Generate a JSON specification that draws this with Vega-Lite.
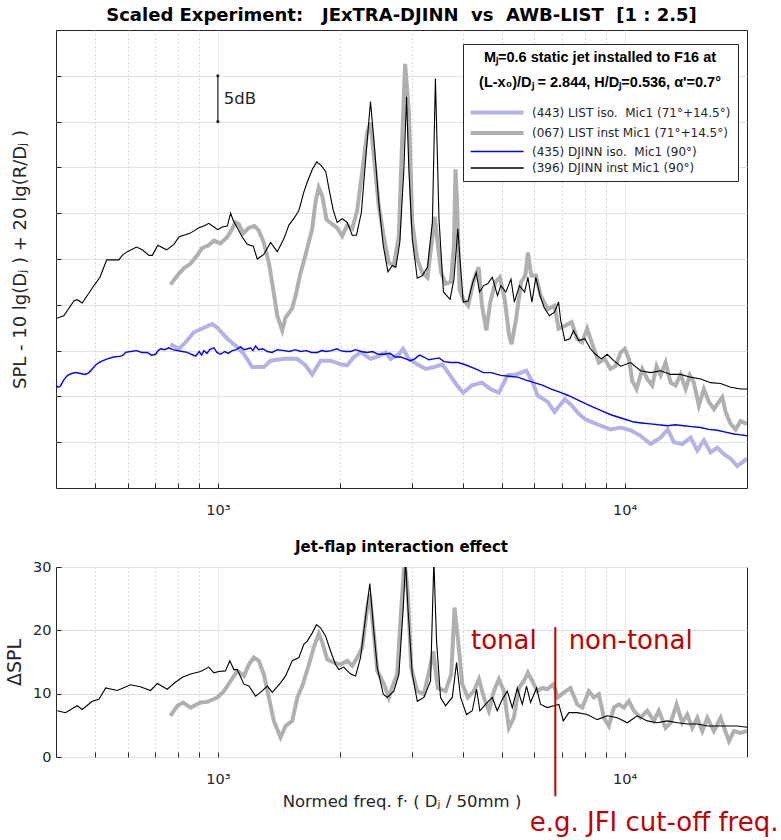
{
  "$schema": "https://vega.github.io/schema/vega-lite/v6.json",
  "padding": {"left": 5, "top": 6, "right": 0, "bottom": 0},
  "background": "white",
  "config": {
    "font": "DejaVu Sans",
    "view": {"stroke": "#262626", "strokeWidth": 1},
    "axis": {
      "domain": false, "ticks": true, "tickSize": -5, "tickColor": "#262626", "tickWidth": 1,
      "labelColor": "#262626", "titleColor": "#262626",
      "labelFont": "DejaVu Sans", "titleFont": "DejaVu Sans",
      "labelFontSize": 14.5, "titleFontWeight": "normal",
      "gridColor": "#e2e2e2", "gridWidth": 1, "labelOverlap": false
    },
    "title": {"font": "DejaVu Sans", "color": "#000000", "anchor": "middle"}
  },
  "datasets": {
    "top": [
      {"s":"a","f":765,"v":15.7},{"s":"a","f":802,"v":15.2},{"s":"a","f":833,"v":15.9},{"s":"a","f":873,"v":17.0},{"s":"a","f":924,"v":17.5},{"s":"a","f":969,"v":17.9},{"s":"a","f":997,"v":17.5},{"s":"a","f":1055,"v":16.3},{"s":"a","f":1116,"v":15.4},{"s":"a","f":1159,"v":14.6},{"s":"a","f":1215,"v":13.2},{"s":"a","f":1297,"v":13.2},{"s":"a","f":1348,"v":13.9},{"s":"a","f":1453,"v":14.1},{"s":"a","f":1566,"v":14.1},{"s":"a","f":1642,"v":13.4},{"s":"a","f":1706,"v":12.4},{"s":"a","f":1790,"v":13.9},{"s":"a","f":1892,"v":13.9},{"s":"a","f":2003,"v":13.5},{"s":"a","f":2080,"v":13.4},{"s":"a","f":2160,"v":14.3},{"s":"a","f":2245,"v":14.8},{"s":"a","f":2373,"v":14.1},{"s":"a","f":2487,"v":14.4},{"s":"a","f":2584,"v":14.8},{"s":"a","f":2660,"v":14.1},{"s":"a","f":2786,"v":14.6},{"s":"a","f":2853,"v":15.2},{"s":"a","f":2949,"v":14.1},{"s":"a","f":3092,"v":13.5},{"s":"a","f":3244,"v":13.0},{"s":"a","f":3398,"v":13.2},{"s":"a","f":3567,"v":13.5},{"s":"a","f":3723,"v":12.3},{"s":"a","f":3873,"v":11.2},{"s":"a","f":4012,"v":10.4},{"s":"a","f":4212,"v":11.2},{"s":"a","f":4461,"v":11.5},{"s":"a","f":4676,"v":10.8},{"s":"a","f":4907,"v":10.4},{"s":"a","f":5155,"v":12.3},{"s":"a","f":5408,"v":12.4},{"s":"a","f":5733,"v":12.8},{"s":"a","f":5949,"v":11.5},{"s":"a","f":6108,"v":10.1},{"s":"a","f":6473,"v":9.4},{"s":"a","f":6726,"v":8.3},{"s":"a","f":7130,"v":9.7},{"s":"a","f":7414,"v":9.0},{"s":"a","f":7715,"v":8.1},{"s":"a","f":8012,"v":7.5},{"s":"a","f":8322,"v":7.2},{"s":"a","f":8730,"v":6.8},{"s":"a","f":9239,"v":6.4},{"s":"a","f":9777,"v":6.6},{"s":"a","f":10347,"v":6.3},{"s":"a","f":10949,"v":5.7},{"s":"a","f":11588,"v":4.8},{"s":"a","f":12263,"v":5.5},{"s":"a","f":12765,"v":6.4},{"s":"a","f":13219,"v":5.0},{"s":"a","f":13864,"v":4.8},{"s":"a","f":14534,"v":5.5},{"s":"a","f":15096,"v":4.1},{"s":"a","f":15668,"v":5.2},{"s":"a","f":16276,"v":3.9},{"s":"a","f":16904,"v":4.4},{"s":"a","f":17550,"v":3.7},{"s":"a","f":18228,"v":3.2},{"s":"a","f":18930,"v":2.4},{"s":"a","f":20000,"v":3.2},
      {"s":"b","f":765,"v":22.2},{"s":"b","f":795,"v":23.2},{"s":"b","f":825,"v":24.0},{"s":"b","f":857,"v":24.5},{"s":"b","f":890,"v":25.4},{"s":"b","f":915,"v":26.2},{"s":"b","f":950,"v":26.5},{"s":"b","f":978,"v":27.0},{"s":"b","f":1015,"v":26.7},{"s":"b","f":1055,"v":27.4},{"s":"b","f":1085,"v":28.3},{"s":"b","f":1105,"v":29.0},{"s":"b","f":1126,"v":28.8},{"s":"b","f":1155,"v":27.8},{"s":"b","f":1192,"v":28.4},{"s":"b","f":1231,"v":28.6},{"s":"b","f":1261,"v":28.1},{"s":"b","f":1297,"v":26.8},{"s":"b","f":1335,"v":24.6},{"s":"b","f":1368,"v":21.7},{"s":"b","f":1400,"v":18.8},{"s":"b","f":1440,"v":17.2},{"s":"b","f":1467,"v":18.6},{"s":"b","f":1523,"v":19.6},{"s":"b","f":1561,"v":21.4},{"s":"b","f":1591,"v":23.2},{"s":"b","f":1642,"v":25.4},{"s":"b","f":1706,"v":28.3},{"s":"b","f":1738,"v":31.2},{"s":"b","f":1770,"v":32.8},{"s":"b","f":1806,"v":31.9},{"s":"b","f":1850,"v":29.3},{"s":"b","f":1910,"v":28.8},{"s":"b","f":1965,"v":28.4},{"s":"b","f":2022,"v":27.5},{"s":"b","f":2080,"v":28.7},{"s":"b","f":2140,"v":28.3},{"s":"b","f":2201,"v":30.3},{"s":"b","f":2264,"v":34.5},{"s":"b","f":2329,"v":38.8},{"s":"b","f":2373,"v":39.9},{"s":"b","f":2418,"v":36.3},{"s":"b","f":2487,"v":30.8},{"s":"b","f":2559,"v":27.4},{"s":"b","f":2632,"v":24.6},{"s":"b","f":2708,"v":24.3},{"s":"b","f":2786,"v":27.5},{"s":"b","f":2840,"v":38.1},{"s":"b","f":2887,"v":46.3},{"s":"b","f":2949,"v":41.0},{"s":"b","f":3006,"v":29.0},{"s":"b","f":3092,"v":25.0},{"s":"b","f":3183,"v":23.5},{"s":"b","f":3276,"v":23.0},{"s":"b","f":3356,"v":26.8},{"s":"b","f":3416,"v":29.6},{"s":"b","f":3469,"v":26.8},{"s":"b","f":3540,"v":23.5},{"s":"b","f":3632,"v":22.3},{"s":"b","f":3742,"v":22.5},{"s":"b","f":3806,"v":26.5},{"s":"b","f":3840,"v":34.8},{"s":"b","f":3873,"v":31.2},{"s":"b","f":3929,"v":21.7},{"s":"b","f":4012,"v":20.6},{"s":"b","f":4125,"v":19.9},{"s":"b","f":4250,"v":22.5},{"s":"b","f":4377,"v":24.1},{"s":"b","f":4461,"v":19.9},{"s":"b","f":4572,"v":17.2},{"s":"b","f":4676,"v":20.3},{"s":"b","f":4814,"v":22.5},{"s":"b","f":4935,"v":23.0},{"s":"b","f":5074,"v":20.6},{"s":"b","f":5204,"v":16.6},{"s":"b","f":5275,"v":15.7},{"s":"b","f":5408,"v":18.4},{"s":"b","f":5570,"v":22.5},{"s":"b","f":5701,"v":23.2},{"s":"b","f":5786,"v":25.7},{"s":"b","f":5895,"v":23.2},{"s":"b","f":6052,"v":23.2},{"s":"b","f":6221,"v":21.0},{"s":"b","f":6473,"v":19.5},{"s":"b","f":6726,"v":19.9},{"s":"b","f":6883,"v":17.4},{"s":"b","f":7130,"v":17.7},{"s":"b","f":7414,"v":18.1},{"s":"b","f":7639,"v":16.3},{"s":"b","f":7864,"v":15.9},{"s":"b","f":8090,"v":17.4},{"s":"b","f":8300,"v":15.9},{"s":"b","f":8645,"v":13.7},{"s":"b","f":8939,"v":14.1},{"s":"b","f":9230,"v":13.0},{"s":"b","f":9500,"v":13.3},{"s":"b","f":9779,"v":14.8},{"s":"b","f":10015,"v":15.2},{"s":"b","f":10246,"v":14.1},{"s":"b","f":10445,"v":11.7},{"s":"b","f":10703,"v":10.8},{"s":"b","f":11053,"v":13.0},{"s":"b","f":11370,"v":11.9},{"s":"b","f":11697,"v":11.2},{"s":"b","f":11986,"v":13.3},{"s":"b","f":12263,"v":12.3},{"s":"b","f":12614,"v":13.7},{"s":"b","f":12977,"v":11.5},{"s":"b","f":13350,"v":11.2},{"s":"b","f":13734,"v":12.4},{"s":"b","f":14129,"v":10.8},{"s":"b","f":14474,"v":12.3},{"s":"b","f":14804,"v":11.5},{"s":"b","f":15229,"v":9.0},{"s":"b","f":15668,"v":10.8},{"s":"b","f":16120,"v":9.4},{"s":"b","f":16583,"v":8.6},{"s":"b","f":17059,"v":9.4},{"s":"b","f":17390,"v":9.9},{"s":"b","f":17720,"v":8.3},{"s":"b","f":18228,"v":7.0},{"s":"b","f":18750,"v":6.4},{"s":"b","f":19289,"v":7.3},{"s":"b","f":20000,"v":7.0},
      {"s":"c","f":400,"v":11.2},{"s":"c","f":405,"v":11.0},{"s":"c","f":410,"v":11.1},{"s":"c","f":418,"v":11.8},{"s":"c","f":427,"v":12.3},{"s":"c","f":437,"v":12.5},{"s":"c","f":447,"v":12.6},{"s":"c","f":460,"v":12.5},{"s":"c","f":472,"v":12.4},{"s":"c","f":482,"v":12.6},{"s":"c","f":491,"v":13.0},{"s":"c","f":500,"v":13.4},{"s":"c","f":510,"v":13.7},{"s":"c","f":522,"v":13.9},{"s":"c","f":535,"v":14.1},{"s":"c","f":555,"v":14.3},{"s":"c","f":577,"v":14.4},{"s":"c","f":585,"v":14.5},{"s":"c","f":593,"v":14.8},{"s":"c","f":610,"v":14.9},{"s":"c","f":631,"v":15.0},{"s":"c","f":650,"v":14.8},{"s":"c","f":671,"v":14.8},{"s":"c","f":687,"v":14.5},{"s":"c","f":703,"v":14.6},{"s":"c","f":713,"v":15.0},{"s":"c","f":723,"v":15.2},{"s":"c","f":740,"v":15.1},{"s":"c","f":758,"v":15.3},{"s":"c","f":775,"v":15.1},{"s":"c","f":795,"v":15.0},{"s":"c","f":818,"v":14.9},{"s":"c","f":841,"v":14.8},{"s":"c","f":860,"v":14.6},{"s":"c","f":882,"v":14.4},{"s":"c","f":900,"v":14.9},{"s":"c","f":912,"v":14.5},{"s":"c","f":924,"v":15.0},{"s":"c","f":940,"v":14.7},{"s":"c","f":955,"v":15.1},{"s":"c","f":978,"v":15.3},{"s":"c","f":995,"v":14.8},{"s":"c","f":1015,"v":14.6},{"s":"c","f":1040,"v":14.9},{"s":"c","f":1060,"v":14.7},{"s":"c","f":1085,"v":15.0},{"s":"c","f":1110,"v":15.1},{"s":"c","f":1137,"v":15.4},{"s":"c","f":1160,"v":15.1},{"s":"c","f":1185,"v":15.2},{"s":"c","f":1204,"v":15.3},{"s":"c","f":1220,"v":15.0},{"s":"c","f":1238,"v":15.5},{"s":"c","f":1260,"v":15.1},{"s":"c","f":1290,"v":15.2},{"s":"c","f":1323,"v":14.9},{"s":"c","f":1360,"v":14.8},{"s":"c","f":1400,"v":15.1},{"s":"c","f":1453,"v":15.0},{"s":"c","f":1500,"v":14.9},{"s":"c","f":1550,"v":15.1},{"s":"c","f":1597,"v":14.9},{"s":"c","f":1650,"v":15.0},{"s":"c","f":1700,"v":14.8},{"s":"c","f":1756,"v":14.8},{"s":"c","f":1800,"v":15.0},{"s":"c","f":1850,"v":14.9},{"s":"c","f":1900,"v":15.0},{"s":"c","f":1965,"v":15.2},{"s":"c","f":2000,"v":15.0},{"s":"c","f":2060,"v":14.9},{"s":"c","f":2121,"v":14.9},{"s":"c","f":2180,"v":15.1},{"s":"c","f":2250,"v":14.9},{"s":"c","f":2329,"v":14.8},{"s":"c","f":2400,"v":14.9},{"s":"c","f":2480,"v":14.6},{"s":"c","f":2559,"v":14.6},{"s":"c","f":2650,"v":14.7},{"s":"c","f":2730,"v":14.3},{"s":"c","f":2813,"v":14.3},{"s":"c","f":2900,"v":14.1},{"s":"c","f":2974,"v":13.9},{"s":"c","f":3050,"v":14.1},{"s":"c","f":3130,"v":14.5},{"s":"c","f":3209,"v":14.3},{"s":"c","f":3300,"v":14.0},{"s":"c","f":3398,"v":14.1},{"s":"c","f":3500,"v":14.2},{"s":"c","f":3600,"v":13.8},{"s":"c","f":3742,"v":13.7},{"s":"c","f":3900,"v":13.7},{"s":"c","f":4089,"v":13.4},{"s":"c","f":4300,"v":13.0},{"s":"c","f":4502,"v":12.6},{"s":"c","f":4700,"v":12.6},{"s":"c","f":4963,"v":12.3},{"s":"c","f":5200,"v":12.2},{"s":"c","f":5463,"v":12.1},{"s":"c","f":5700,"v":11.8},{"s":"c","f":5998,"v":11.5},{"s":"c","f":6300,"v":11.2},{"s":"c","f":6604,"v":10.8},{"s":"c","f":6900,"v":10.5},{"s":"c","f":7268,"v":10.1},{"s":"c","f":7600,"v":9.7},{"s":"c","f":8012,"v":9.2},{"s":"c","f":8400,"v":8.8},{"s":"c","f":8819,"v":8.4},{"s":"c","f":9250,"v":8.0},{"s":"c","f":9707,"v":7.7},{"s":"c","f":10200,"v":7.4},{"s":"c","f":10541,"v":7.2},{"s":"c","f":11000,"v":7.1},{"s":"c","f":11588,"v":7.0},{"s":"c","f":12100,"v":6.9},{"s":"c","f":12765,"v":6.8},{"s":"c","f":13300,"v":6.9},{"s":"c","f":13989,"v":6.8},{"s":"c","f":14600,"v":6.7},{"s":"c","f":15380,"v":6.6},{"s":"c","f":16100,"v":6.4},{"s":"c","f":16904,"v":6.3},{"s":"c","f":17700,"v":6.1},{"s":"c","f":18570,"v":5.9},{"s":"c","f":19300,"v":5.8},{"s":"c","f":20000,"v":5.7},
      {"s":"d","f":400,"v":18.5},{"s":"d","f":418,"v":18.8},{"s":"d","f":443,"v":20.45},{"s":"d","f":451,"v":20.56},{"s":"d","f":464,"v":20.2},{"s":"d","f":496,"v":22.1},{"s":"d","f":513,"v":23.0},{"s":"d","f":533,"v":24.9},{"s":"d","f":571,"v":24.9},{"s":"d","f":582,"v":25.4},{"s":"d","f":599,"v":25.8},{"s":"d","f":631,"v":26.3},{"s":"d","f":652,"v":26.0},{"s":"d","f":677,"v":25.4},{"s":"d","f":690,"v":25.4},{"s":"d","f":712,"v":26.5},{"s":"d","f":748,"v":26.0},{"s":"d","f":780,"v":26.6},{"s":"d","f":802,"v":27.4},{"s":"d","f":825,"v":27.6},{"s":"d","f":853,"v":27.8},{"s":"d","f":876,"v":28.1},{"s":"d","f":898,"v":28.4},{"s":"d","f":924,"v":28.6},{"s":"d","f":950,"v":28.9},{"s":"d","f":978,"v":28.5},{"s":"d","f":1000,"v":28.2},{"s":"d","f":1025,"v":28.5},{"s":"d","f":1055,"v":28.6},{"s":"d","f":1075,"v":30.0},{"s":"d","f":1091,"v":29.2},{"s":"d","f":1116,"v":28.4},{"s":"d","f":1148,"v":27.4},{"s":"d","f":1181,"v":26.6},{"s":"d","f":1222,"v":26.4},{"s":"d","f":1250,"v":25.0},{"s":"d","f":1297,"v":25.5},{"s":"d","f":1348,"v":26.8},{"s":"d","f":1400,"v":25.8},{"s":"d","f":1453,"v":27.2},{"s":"d","f":1495,"v":28.7},{"s":"d","f":1537,"v":29.4},{"s":"d","f":1582,"v":30.3},{"s":"d","f":1627,"v":32.3},{"s":"d","f":1659,"v":33.4},{"s":"d","f":1708,"v":34.8},{"s":"d","f":1750,"v":35.6},{"s":"d","f":1797,"v":35.2},{"s":"d","f":1843,"v":34.5},{"s":"d","f":1877,"v":32.6},{"s":"d","f":1922,"v":30.3},{"s":"d","f":1965,"v":29.0},{"s":"d","f":2022,"v":29.4},{"s":"d","f":2080,"v":29.0},{"s":"d","f":2140,"v":27.6},{"s":"d","f":2192,"v":27.6},{"s":"d","f":2254,"v":30.1},{"s":"d","f":2320,"v":37.0},{"s":"d","f":2373,"v":42.2},{"s":"d","f":2418,"v":38.1},{"s":"d","f":2487,"v":31.2},{"s":"d","f":2550,"v":26.5},{"s":"d","f":2619,"v":23.6},{"s":"d","f":2686,"v":24.3},{"s":"d","f":2739,"v":24.1},{"s":"d","f":2801,"v":26.8},{"s":"d","f":2867,"v":34.8},{"s":"d","f":2910,"v":42.7},{"s":"d","f":2949,"v":34.8},{"s":"d","f":3006,"v":27.2},{"s":"d","f":3092,"v":22.9},{"s":"d","f":3183,"v":23.2},{"s":"d","f":3276,"v":24.1},{"s":"d","f":3369,"v":29.0},{"s":"d","f":3427,"v":44.7},{"s":"d","f":3497,"v":29.4},{"s":"d","f":3586,"v":21.4},{"s":"d","f":3723,"v":20.6},{"s":"d","f":3806,"v":22.8},{"s":"d","f":3891,"v":28.3},{"s":"d","f":3945,"v":24.6},{"s":"d","f":4012,"v":20.3},{"s":"d","f":4125,"v":20.4},{"s":"d","f":4237,"v":22.5},{"s":"d","f":4317,"v":23.5},{"s":"d","f":4400,"v":21.4},{"s":"d","f":4502,"v":22.1},{"s":"d","f":4606,"v":22.3},{"s":"d","f":4729,"v":23.0},{"s":"d","f":4871,"v":21.0},{"s":"d","f":4963,"v":22.1},{"s":"d","f":5106,"v":21.4},{"s":"d","f":5257,"v":22.8},{"s":"d","f":5358,"v":20.3},{"s":"d","f":5516,"v":22.1},{"s":"d","f":5679,"v":21.4},{"s":"d","f":5786,"v":23.0},{"s":"d","f":5918,"v":20.3},{"s":"d","f":6052,"v":23.0},{"s":"d","f":6198,"v":21.0},{"s":"d","f":6342,"v":19.7},{"s":"d","f":6533,"v":18.8},{"s":"d","f":6726,"v":19.2},{"s":"d","f":6883,"v":20.3},{"s":"d","f":6965,"v":18.3},{"s":"d","f":7130,"v":16.1},{"s":"d","f":7342,"v":16.3},{"s":"d","f":7488,"v":17.2},{"s":"d","f":7715,"v":16.1},{"s":"d","f":7985,"v":16.3},{"s":"d","f":8242,"v":15.2},{"s":"d","f":8480,"v":14.6},{"s":"d","f":8771,"v":14.1},{"s":"d","f":9060,"v":14.6},{"s":"d","f":9409,"v":13.9},{"s":"d","f":9777,"v":13.3},{"s":"d","f":10347,"v":13.7},{"s":"d","f":10949,"v":12.8},{"s":"d","f":11588,"v":12.6},{"s":"d","f":12263,"v":12.8},{"s":"d","f":12977,"v":12.4},{"s":"d","f":13734,"v":12.4},{"s":"d","f":14534,"v":12.1},{"s":"d","f":15380,"v":11.9},{"s":"d","f":16276,"v":11.5},{"s":"d","f":17224,"v":11.4},{"s":"d","f":18228,"v":11.0},{"s":"d","f":19289,"v":10.8},{"s":"d","f":20000,"v":10.8}
    ],
    "bot": [
      {"s":"b","f":765,"v":6.5},{"s":"b","f":795,"v":8.1},{"s":"b","f":822,"v":8.6},{"s":"b","f":857,"v":7.8},{"s":"b","f":907,"v":8.6},{"s":"b","f":942,"v":8.7},{"s":"b","f":997,"v":9.4},{"s":"b","f":1035,"v":10.4},{"s":"b","f":1075,"v":12.0},{"s":"b","f":1116,"v":13.6},{"s":"b","f":1159,"v":12.8},{"s":"b","f":1192,"v":14.6},{"s":"b","f":1226,"v":15.7},{"s":"b","f":1261,"v":15.2},{"s":"b","f":1297,"v":13.1},{"s":"b","f":1335,"v":9.4},{"s":"b","f":1373,"v":5.7},{"s":"b","f":1426,"v":3.1},{"s":"b","f":1467,"v":4.9},{"s":"b","f":1524,"v":5.7},{"s":"b","f":1568,"v":9.4},{"s":"b","f":1613,"v":11.2},{"s":"b","f":1675,"v":14.6},{"s":"b","f":1722,"v":17.3},{"s":"b","f":1771,"v":19.5},{"s":"b","f":1806,"v":18.1},{"s":"b","f":1858,"v":15.4},{"s":"b","f":1929,"v":14.9},{"s":"b","f":2003,"v":14.6},{"s":"b","f":2081,"v":15.2},{"s":"b","f":2140,"v":14.4},{"s":"b","f":2202,"v":15.7},{"s":"b","f":2265,"v":17.3},{"s":"b","f":2330,"v":23.6},{"s":"b","f":2364,"v":25.7},{"s":"b","f":2410,"v":20.4},{"s":"b","f":2466,"v":13.6},{"s":"b","f":2560,"v":11.5},{"s":"b","f":2633,"v":9.4},{"s":"b","f":2680,"v":10.9},{"s":"b","f":2761,"v":13.1},{"s":"b","f":2825,"v":23.6},{"s":"b","f":2878,"v":31.0},{"s":"b","f":2933,"v":25.7},{"s":"b","f":2989,"v":14.1},{"s":"b","f":3093,"v":10.4},{"s":"b","f":3211,"v":9.9},{"s":"b","f":3322,"v":14.1},{"s":"b","f":3385,"v":16.7},{"s":"b","f":3474,"v":10.9},{"s":"b","f":3630,"v":10.4},{"s":"b","f":3749,"v":13.1},{"s":"b","f":3819,"v":23.6},{"s":"b","f":3891,"v":18.8},{"s":"b","f":3990,"v":11.5},{"s":"b","f":4118,"v":9.4},{"s":"b","f":4261,"v":10.4},{"s":"b","f":4385,"v":12.3},{"s":"b","f":4508,"v":9.4},{"s":"b","f":4638,"v":7.3},{"s":"b","f":4771,"v":10.4},{"s":"b","f":4908,"v":12.3},{"s":"b","f":5049,"v":10.4},{"s":"b","f":5194,"v":4.6},{"s":"b","f":5343,"v":6.2},{"s":"b","f":5497,"v":10.9},{"s":"b","f":5655,"v":12.0},{"s":"b","f":5784,"v":13.3},{"s":"b","f":5930,"v":12.0},{"s":"b","f":6100,"v":10.4},{"s":"b","f":6275,"v":10.9},{"s":"b","f":6456,"v":10.7},{"s":"b","f":6680,"v":11.5},{"s":"b","f":6855,"v":9.4},{"s":"b","f":7093,"v":10.2},{"s":"b","f":7365,"v":10.9},{"s":"b","f":7650,"v":8.3},{"s":"b","f":7870,"v":7.8},{"s":"b","f":8170,"v":10.4},{"s":"b","f":8405,"v":9.4},{"s":"b","f":8646,"v":9.9},{"s":"b","f":8895,"v":6.2},{"s":"b","f":9150,"v":4.9},{"s":"b","f":9413,"v":7.8},{"s":"b","f":9683,"v":8.3},{"s":"b","f":9961,"v":7.8},{"s":"b","f":10247,"v":8.8},{"s":"b","f":10541,"v":7.3},{"s":"b","f":10949,"v":6.2},{"s":"b","f":11370,"v":7.3},{"s":"b","f":11808,"v":5.7},{"s":"b","f":12141,"v":7.3},{"s":"b","f":12614,"v":4.6},{"s":"b","f":12977,"v":5.4},{"s":"b","f":13423,"v":8.3},{"s":"b","f":13864,"v":5.4},{"s":"b","f":14264,"v":6.7},{"s":"b","f":14671,"v":4.6},{"s":"b","f":15096,"v":6.2},{"s":"b","f":15529,"v":4.1},{"s":"b","f":15977,"v":6.2},{"s":"b","f":16583,"v":4.1},{"s":"b","f":17224,"v":6.2},{"s":"b","f":18055,"v":2.5},{"s":"b","f":18570,"v":4.1},{"s":"b","f":19289,"v":3.8},{"s":"b","f":20000,"v":4.1},
      {"s":"d","f":403,"v":7.3},{"s":"d","f":422,"v":7.0},{"s":"d","f":451,"v":8.1},{"s":"d","f":464,"v":7.5},{"s":"d","f":491,"v":8.8},{"s":"d","f":510,"v":9.1},{"s":"d","f":530,"v":10.9},{"s":"d","f":566,"v":10.5},{"s":"d","f":610,"v":11.4},{"s":"d","f":645,"v":11.1},{"s":"d","f":683,"v":10.5},{"s":"d","f":710,"v":11.6},{"s":"d","f":751,"v":10.7},{"s":"d","f":779,"v":11.6},{"s":"d","f":818,"v":12.6},{"s":"d","f":857,"v":13.1},{"s":"d","f":907,"v":13.5},{"s":"d","f":950,"v":14.2},{"s":"d","f":978,"v":13.3},{"s":"d","f":1006,"v":13.5},{"s":"d","f":1044,"v":13.6},{"s":"d","f":1070,"v":15.2},{"s":"d","f":1095,"v":13.8},{"s":"d","f":1116,"v":13.8},{"s":"d","f":1159,"v":11.5},{"s":"d","f":1192,"v":11.2},{"s":"d","f":1238,"v":9.6},{"s":"d","f":1273,"v":10.2},{"s":"d","f":1323,"v":11.2},{"s":"d","f":1361,"v":10.2},{"s":"d","f":1426,"v":11.7},{"s":"d","f":1467,"v":12.8},{"s":"d","f":1524,"v":15.2},{"s":"d","f":1582,"v":15.7},{"s":"d","f":1627,"v":17.8},{"s":"d","f":1659,"v":18.3},{"s":"d","f":1707,"v":19.6},{"s":"d","f":1748,"v":20.9},{"s":"d","f":1788,"v":20.4},{"s":"d","f":1840,"v":19.1},{"s":"d","f":1893,"v":16.7},{"s":"d","f":1947,"v":14.6},{"s":"d","f":1984,"v":13.8},{"s":"d","f":2040,"v":14.2},{"s":"d","f":2120,"v":13.1},{"s":"d","f":2181,"v":12.8},{"s":"d","f":2243,"v":15.7},{"s":"d","f":2307,"v":22.0},{"s":"d","f":2364,"v":27.4},{"s":"d","f":2410,"v":20.9},{"s":"d","f":2466,"v":14.1},{"s":"d","f":2551,"v":9.9},{"s":"d","f":2609,"v":9.4},{"s":"d","f":2709,"v":10.4},{"s":"d","f":2787,"v":13.1},{"s":"d","f":2857,"v":23.6},{"s":"d","f":2894,"v":31.0},{"s":"d","f":2933,"v":23.6},{"s":"d","f":3006,"v":13.1},{"s":"d","f":3093,"v":8.8},{"s":"d","f":3211,"v":9.4},{"s":"d","f":3334,"v":12.0},{"s":"d","f":3397,"v":31.0},{"s":"d","f":3449,"v":18.3},{"s":"d","f":3528,"v":9.4},{"s":"d","f":3630,"v":8.1},{"s":"d","f":3770,"v":9.4},{"s":"d","f":3863,"v":14.9},{"s":"d","f":3952,"v":9.4},{"s":"d","f":4088,"v":6.7},{"s":"d","f":4222,"v":7.3},{"s":"d","f":4327,"v":10.7},{"s":"d","f":4408,"v":7.3},{"s":"d","f":4552,"v":8.3},{"s":"d","f":4728,"v":9.4},{"s":"d","f":4864,"v":7.3},{"s":"d","f":5004,"v":9.1},{"s":"d","f":5148,"v":10.4},{"s":"d","f":5296,"v":7.8},{"s":"d","f":5448,"v":10.9},{"s":"d","f":5605,"v":8.3},{"s":"d","f":5741,"v":11.2},{"s":"d","f":5873,"v":8.6},{"s":"d","f":6076,"v":10.9},{"s":"d","f":6216,"v":8.3},{"s":"d","f":6456,"v":7.8},{"s":"d","f":6703,"v":8.1},{"s":"d","f":6894,"v":8.3},{"s":"d","f":7069,"v":5.7},{"s":"d","f":7297,"v":7.0},{"s":"d","f":7650,"v":7.0},{"s":"d","f":8094,"v":6.7},{"s":"d","f":8568,"v":5.9},{"s":"d","f":9068,"v":6.5},{"s":"d","f":9597,"v":6.2},{"s":"d","f":10153,"v":5.4},{"s":"d","f":10745,"v":6.5},{"s":"d","f":11370,"v":5.7},{"s":"d","f":12034,"v":5.4},{"s":"d","f":12735,"v":5.7},{"s":"d","f":13478,"v":5.4},{"s":"d","f":14264,"v":5.2},{"s":"d","f":15096,"v":5.2},{"s":"d","f":15977,"v":4.9},{"s":"d","f":16904,"v":4.9},{"s":"d","f":17889,"v":4.9},{"s":"d","f":18930,"v":4.9},{"s":"d","f":20000,"v":4.7}
    ]
  },
  "spacing": 22,
  "resolve": {"scale": {"color": "independent"}, "legend": {"color": "independent"}},
  "vconcat": [
    {
      "width": 691,
      "height": 458,
      "title": {"text": "Scaled Experiment:\u00a0\u00a0 JExTRA-DJINN\u00a0 vs\u00a0 AWB-LIST\u00a0 [1 : 2.5]", "fontSize": 18, "fontWeight": "bold", "offset": 5, "frame": "group"},
      "layer": [
        {
          "data": {"name": "top"},
          "transform": [{"filter": "datum.s == 'a'"}],
          "mark": {"type": "line", "strokeWidth": 4, "clip": true},
          "encoding": {
            "x": {"field": "f", "type": "quantitative", "scale": {"type": "log", "domain": [400, 20000], "nice": false},
              "axis": {"title": null, "values": [500,600,700,800,900,1000,2000,3000,4000,5000,6000,7000,8000,9000,10000],
                "labelExpr": "datum.value == 1000 ? '10³' : datum.value == 10000 ? '10⁴' : ''",
                "labelPadding": 20,
                "gridDash": {"condition": {"test": "datum.value == 1000 || datum.value == 10000", "value": [1, 0]}, "value": [1, 3]},
                "gridColor": {"condition": {"test": "datum.value == 1000 || datum.value == 10000", "value": "#e2e2e2"}, "value": "#b8b8b8"}}},
            "y": {"field": "v", "type": "quantitative", "scale": {"domain": [0, 50], "nice": false, "zero": false},
              "axis": {"values": [5,10,15,20,25,30,35,40,45], "labels": false, "title": "SPL - 10 lg(Dⱼ ) + 20 lg(R/Dⱼ )", "titleFontSize": 18, "titlePadding": 26}},
            "color": {"field": "s", "type": "nominal",
              "scale": {"domain": ["a","b","c","d"], "range": ["#b3b3e6","#b0b0b0","#0000ff","#000000"]},
              "legend": {
                "orient": "none", "legendX": 407, "legendY": 14,
                "title": ["Mⱼ=0.6 static jet installed to F16 at", "(L-x₀)/Dⱼ = 2.844, H/Dⱼ=0.536, α'=0.7°"],
                "titleFont": "Liberation Sans", "titleFontSize": 14.5, "titleFontWeight": "bold", "titleColor": "#000000", "titleAnchor": "middle", "titleAlign": "center", "titleLineHeight": 25, "titlePadding": 16, "titleLimit": 0,
                "labelFontSize": 12, "labelColor": "#262626", "labelOffset": 50, "labelLimit": 0,
                "symbolType": "M-1,0H9", "symbolSize": 112,
                "strokeColor": "#262626", "fillColor": "#ffffff", "padding": 7, "rowPadding": 4.5,
                "labelExpr": "datum.value == 'a' ? '(443) LIST iso.\u00a0 Mic1 (71°+14.5°)' : datum.value == 'b' ? '(067) LIST inst Mic1 (71°+14.5°)' : datum.value == 'c' ? '(435) DJINN iso.\u00a0 Mic1 (90°)' : '(396) DJINN inst Mic1 (90°)'",
                "encode": {"symbols": {"update": {"strokeWidth": {"signal": "datum.value == 'a' || datum.value == 'b' ? 4 : 1.3"}}}}
              }}
          }
        },
        {
          "data": {"name": "top"},
          "transform": [{"filter": "datum.s == 'b'"}],
          "mark": {"type": "line", "strokeWidth": 4, "clip": true},
          "encoding": {"x": {"field": "f", "type": "quantitative"}, "y": {"field": "v", "type": "quantitative"}, "color": {"field": "s", "type": "nominal"}}
        },
        {
          "data": {"name": "top"},
          "transform": [{"filter": "datum.s == 'c'"}],
          "mark": {"type": "line", "strokeWidth": 1.4, "clip": true},
          "encoding": {"x": {"field": "f", "type": "quantitative"}, "y": {"field": "v", "type": "quantitative"}, "color": {"field": "s", "type": "nominal"}}
        },
        {
          "data": {"name": "top"},
          "transform": [{"filter": "datum.s == 'd'"}],
          "mark": {"type": "line", "strokeWidth": 1.1, "clip": true},
          "encoding": {"x": {"field": "f", "type": "quantitative"}, "y": {"field": "v", "type": "quantitative"}, "color": {"field": "s", "type": "nominal"}}
        },
        {
          "data": {"values": [{"f": 1000, "v": 40, "v2": 45}]},
          "mark": {"type": "rule", "color": "#262626", "strokeWidth": 1.2},
          "encoding": {"x": {"field": "f", "type": "quantitative"}, "y": {"field": "v", "type": "quantitative"}, "y2": {"field": "v2"}}
        },
        {
          "data": {"values": [{"f": 1000, "v": 40}, {"f": 1000, "v": 45}]},
          "mark": {"type": "point", "filled": true, "size": 10, "color": "#262626", "opacity": 1},
          "encoding": {"x": {"field": "f", "type": "quantitative"}, "y": {"field": "v", "type": "quantitative"}}
        },
        {
          "data": {"values": [{"f": 1034, "v": 42.5, "t": "5dB"}]},
          "mark": {"type": "text", "align": "left", "baseline": "middle", "fontSize": 16.5, "color": "#262626"},
          "encoding": {"x": {"field": "f", "type": "quantitative"}, "y": {"field": "v", "type": "quantitative"}, "text": {"field": "t"}}
        }
      ]
    },
    {
      "width": 691,
      "height": 190,
      "title": {"text": "Jet-flap interaction effect", "fontSize": 15, "fontWeight": "bold", "offset": 4, "frame": "group"},
      "layer": [
        {
          "data": {"name": "bot"},
          "transform": [{"filter": "datum.s == 'b'"}],
          "mark": {"type": "line", "strokeWidth": 4, "color": "#b0b0b0", "clip": true},
          "encoding": {
            "x": {"field": "f", "type": "quantitative", "scale": {"type": "log", "domain": [400, 20000], "nice": false},
              "axis": {"title": "Normed freq. f· ( Dⱼ / 50mm )", "titleFontSize": 16.5, "titlePadding": 8,
                "values": [500,600,700,800,900,1000,2000,3000,4000,5000,6000,7000,8000,9000,10000],
                "labelExpr": "datum.value == 1000 ? '10³' : datum.value == 10000 ? '10⁴' : ''",
                "labelPadding": 20,
                "gridDash": {"condition": {"test": "datum.value == 1000 || datum.value == 10000", "value": [1, 0]}, "value": [1, 3]},
                "gridColor": {"condition": {"test": "datum.value == 1000 || datum.value == 10000", "value": "#e2e2e2"}, "value": "#b8b8b8"}}},
            "y": {"field": "v", "type": "quantitative", "scale": {"domain": [0, 30], "nice": false, "zero": false},
              "axis": {"values": [0,5,10,15,20,25,30], "title": "ΔSPL", "titleFontSize": 19, "titlePadding": 8, "labelPadding": 10}}
          }
        },
        {
          "data": {"name": "bot"},
          "transform": [{"filter": "datum.s == 'd'"}],
          "mark": {"type": "line", "strokeWidth": 1.1, "color": "#000000", "clip": true},
          "encoding": {"x": {"field": "f", "type": "quantitative"}, "y": {"field": "v", "type": "quantitative"}}
        },
        {
          "data": {"values": [{"f": 6757, "v": 20.5, "v2": -6.2}]},
          "mark": {"type": "rule", "color": "#c00000", "strokeWidth": 2},
          "encoding": {"x": {"field": "f", "type": "quantitative"}, "y": {"field": "v", "type": "quantitative"}, "y2": {"field": "v2"}}
        },
        {
          "data": {"values": [{"f": 5050, "v": 17.0, "t": "tonal"}]},
          "mark": {"type": "text", "align": "center", "baseline": "alphabetic", "fontSize": 26, "color": "#c00000"},
          "encoding": {"x": {"field": "f", "type": "quantitative"}, "y": {"field": "v", "type": "quantitative"}, "text": {"field": "t"}}
        },
        {
          "data": {"values": [{"f": 7286, "v": 17.0, "t": "non-tonal"}, {"f": 5844, "v": -11.7, "t": "e.g. JFI cut-off freq."}]},
          "mark": {"type": "text", "align": "left", "baseline": "alphabetic", "fontSize": 26, "color": "#c00000"},
          "encoding": {"x": {"field": "f", "type": "quantitative"}, "y": {"field": "v", "type": "quantitative"}, "text": {"field": "t"}}
        }
      ]
    }
  ]
}
